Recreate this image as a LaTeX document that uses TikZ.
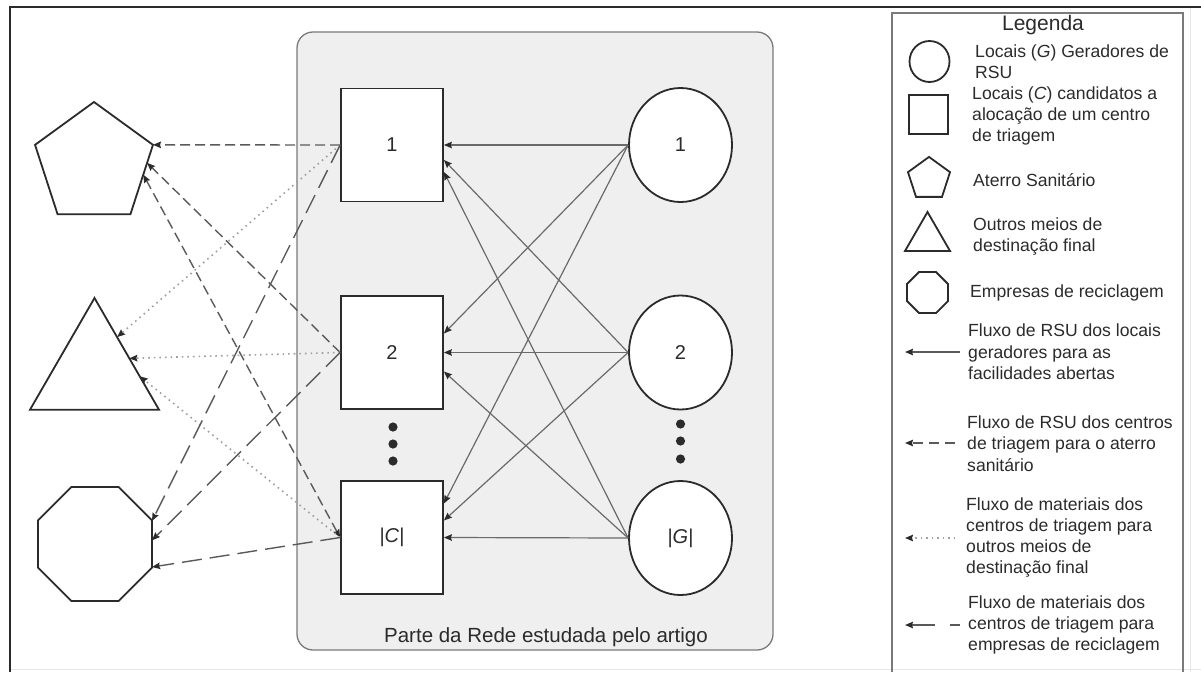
\documentclass[tikz,border=0pt]{standalone}
\usepackage{fontspec}
\setmainfont{Liberation Sans}
\usetikzlibrary{shapes.geometric,arrows.meta,calc}

\definecolor{ink}{HTML}{2B2B2B}
\definecolor{panel}{HTML}{EFEFEF}
\definecolor{panelline}{HTML}{7A7A7A}
\definecolor{flowline}{HTML}{6A6A6A}
\definecolor{dashline}{HTML}{5A5A5A}
\definecolor{dotline}{HTML}{A0A0A0}
\definecolor{faint}{HTML}{E6E6E6}

\begin{document}
\begin{tikzpicture}[x=1pt,y=-1pt,
  flowtip/.style={-{Stealth[length=8pt,width=6.5pt,inset=1pt,color=ink]}},
  bothtips/.style={{Stealth[length=8pt,width=6.5pt,inset=1pt,color=ink]}-{Stealth[length=8pt,width=6.5pt,inset=1pt,color=ink]}},
  numfont/.style={font=\fontsize{20}{24}\selectfont, text=ink},
  site/.style={rectangle, draw=ink, line width=1.8pt, fill=white, minimum width=102pt, minimum height=113pt, inner sep=0pt, numfont},
  gen/.style={ellipse, draw=ink, line width=1.8pt, fill=white, minimum width=103pt, minimum height=114pt, inner sep=0pt, numfont},
  poly/.style={regular polygon, draw=ink, line width=1.8pt, fill=white, inner sep=0pt, outer sep=0pt},
  flow/.style={draw=flowline, line width=1.2pt, flowtip},
  landflow/.style={draw=dashline, line width=1.4pt, dash pattern=on 10pt off 5pt, flowtip},
  otherflow/.style={draw=dotline, line width=1.6pt, dash pattern=on 1.6pt off 4pt, flowtip},
  recflow/.style={draw=dashline, line width=1.4pt, dash pattern=on 20pt off 8pt, flowtip},
  keytext/.style={anchor=west, align=left, inner sep=0pt, text=ink, font=\fontsize{17.6}{21.3}\selectfont},
  dotmark/.style={fill=ink}
]
\useasboundingbox (0,0) rectangle (1201,672);

% outer frame
\draw[faint, line width=1pt] (10,669) -- (1201,669);
\draw[faint, line width=1pt] (1190,7) -- (1190,672);
\draw[ink, line width=2.4pt] (10,672) -- (10,7) -- (1201,7);

% studied part of the network
\draw[fill=panel, draw=panelline, line width=1.3pt, rounded corners=16pt] (297,32) rectangle (773,650);
\node[font=\fontsize{20.5}{24}\selectfont, text=ink] (caption) at (546,637) {Parte da Rede estudada pelo artigo};

% candidate sites and generators
\node[site] (s1) at (392,145) {1};
\node[site] (s2) at (392,352.5) {2};
\node[site] (sC) at (392,537.5) {|\textit{C}|};
\node[gen] (g1) at (680.5,145) {1};
\node[gen] (g2) at (680.5,352.5) {2};
\node[gen] (gG) at (680.5,538) {|\textit{G}|};

\foreach \y in {427,444,461} \fill[dotmark] (393,\y) circle (4.6);
\foreach \y in {424,441,459} \fill[dotmark] (680.5,\y) circle (4.6);

% final destinations
\node[poly, regular polygon sides=5, minimum size=124pt] (land) at (94,164) {};
\node[poly, regular polygon sides=3, minimum size=149pt] (other) at (94.5,372.5) {};
\node[poly, regular polygon sides=8, minimum size=123.4pt] (recyc) at (95,544) {};

% waste flows from generators to sites
\draw[flow] (g1.west) -- (s1.east);
\draw[flow] (g2.west) -- ($(s1.east)+(0,15)$);
\draw[flow] (gG.west) -- ($(s1.east)+(0,27)$);
\draw[flow] (g1.west) -- ($(s2.east)+(0,-19)$);
\draw[flow] (g2.west) -- (s2.east);
\draw[flow] (gG.west) -- ($(s2.east)+(0,19)$);
\draw[flow] (g1.west) -- ($(sC.east)+(0,-34)$);
\draw[flow] (g2.west) -- ($(sC.east)+(0,-17)$);
\draw[flow] (gG.west) -- (sC.east);

% flows to the landfill
\draw[landflow] (s1.west) -- (land.18);
\draw[landflow] (s2.west) -- ($(land.18)!0.26!(land.-54)$);
\draw[landflow, bothtips] (sC.west) -- ($(land.18)!0.43!(land.-54)$);

% flows to other final destinations
\draw[otherflow] (s1.west) -- ($(other.90)!0.35!(other.-30)$);
\draw[otherflow] (s2.west) -- ($(other.90)!0.54!(other.-30)$);
\draw[otherflow] (sC.west) -- ($(other.90)!0.70!(other.-30)$);

% flows to recycling companies
\draw[recflow] (s1.west) -- (recyc.22.5);
\draw[recflow] (s2.west) -- ($(recyc.22.5)!0.42!(recyc.-22.5)$);
\draw[recflow] (sC.west) -- (recyc.-22.5);

% legend
\draw[panelline, line width=1.8pt] (892,672) -- (892,13) -- (1183,13) -- (1183,672);
\node[font=\fontsize{21}{25}\selectfont, text=ink] (keytitle) at (1043,25) {Legenda};

\node[ellipse, draw=ink, line width=1.8pt, minimum width=40pt, minimum height=41pt, inner sep=0pt] (kg) at (929.5,61.5) {};
\node[keytext] (kgt) at (975,62) {Locais (\textit{G}) Geradores de\\RSU};

\node[rectangle, draw=ink, line width=1.8pt, minimum size=39pt, inner sep=0pt] (kc) at (928.5,114.5) {};
\node[keytext] (kct) at (972,116) {Locais (\textit{C}) candidatos a\\alocação de um centro\\de triagem};

\node[poly, regular polygon sides=5, minimum size=44.2pt] (kl) at (929,179) {};
\node[keytext] (klt) at (973,180) {Aterro Sanitário};

\node[poly, regular polygon sides=3, minimum size=52pt] (ko) at (927.5,238) {};
\node[keytext] (kot) at (973,236.5) {Outros meios de\\destinação final};

\node[poly, regular polygon sides=8, minimum size=44.4pt] (kr) at (927.5,292.5) {};
\node[keytext] (krt) at (970,293) {Empresas de reciclagem};

\coordinate (f1a) at (960,352); \coordinate (f1b) at (905,352);
\draw[draw=dashline, line width=1.5pt, flowtip] (f1a) -- (f1b);
\node[keytext] (f1t) at (968,352) {Fluxo de RSU dos locais\\geradores para as\\facilidades abertas};

\coordinate (f2a) at (955,443); \coordinate (f2b) at (905,443);
\draw[draw=dashline, line width=1.5pt, dash pattern=on 10pt off 6pt, flowtip] (f2a) -- (f2b);
\node[keytext] (f2t) at (967,443.5) {Fluxo de RSU dos centros\\de triagem para o aterro\\sanitário};

\coordinate (f3a) at (955,538); \coordinate (f3b) at (905,538);
\draw[draw=dotline, line width=1.5pt, dash pattern=on 1.5pt off 4pt, flowtip] (f3a) -- (f3b);
\node[keytext] (f3t) at (966,537.5) {Fluxo de materiais dos\\centros de triagem para\\outros meios de\\destinação final};

\coordinate (f4a) at (960,625); \coordinate (f4b) at (905,625);
\draw[draw=dashline, line width=1.5pt, dash pattern=on 10pt off 15pt on 40pt off 0pt, flowtip] (f4a) -- (f4b);
\node[keytext] (f4t) at (968,625) {Fluxo de materiais dos\\centros de triagem para\\empresas de reciclagem};
\end{tikzpicture}
\end{document}
